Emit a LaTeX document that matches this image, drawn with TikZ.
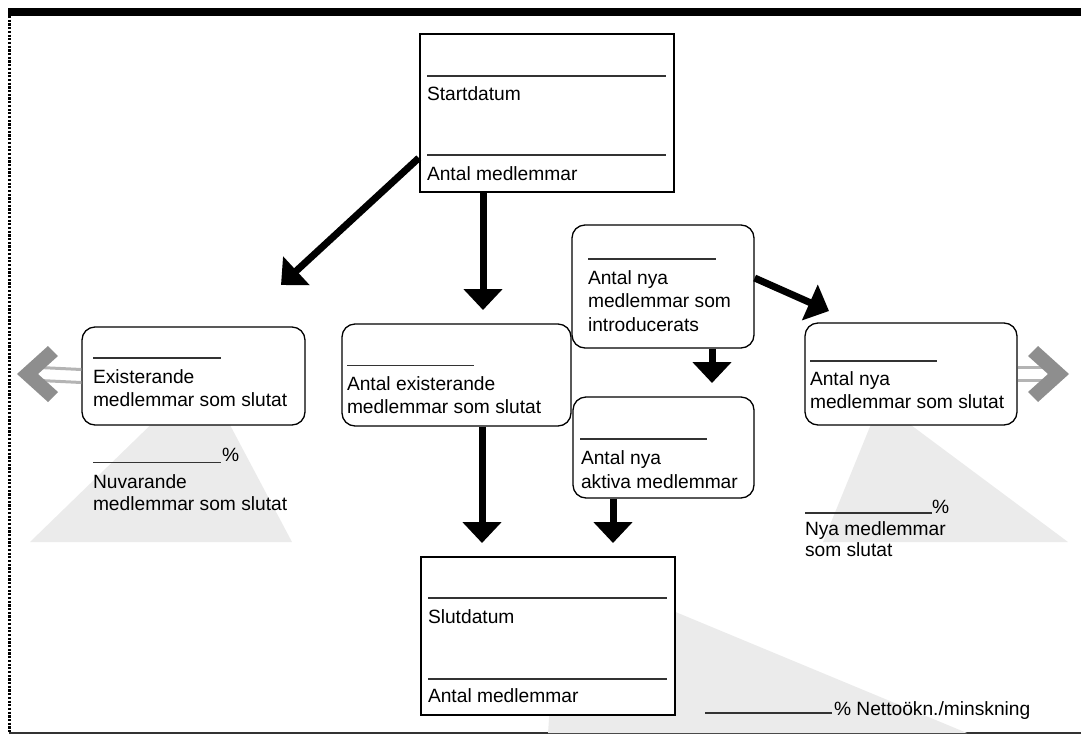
\documentclass[tikz,border=0pt]{standalone}
\usepackage{fontspec}
\setmainfont{Liberation Sans}
\usetikzlibrary{arrows.meta}
\definecolor{tri}{HTML}{EBEBEB}
\definecolor{chev}{HTML}{8E8E8E}
\definecolor{dline}{HTML}{B4B4B4}
\definecolor{ul}{HTML}{333333}
\tikzset{
  txt/.style={anchor=base west, inner sep=0pt, outer sep=0pt, font=\fontsize{19.2}{23}\selectfont},
  sqbox/.style={draw=black, line width=2.5pt, fill=white, inner sep=0pt},
  rbox/.style={draw=black, line width=1.3pt, rounded corners=13pt, fill=white, inner sep=0pt},
  bigarrow/.style={line width=7pt, draw=black, -{Triangle[width=38pt,length=21pt]}},
  blank/.style={draw=ul, line width=1.2pt},
  grayline/.style={draw=dline, line width=3pt},
  tripatch/.style={fill=tri, draw=none},
  chevron/.style={fill=chev, draw=none}
}
\begin{document}
\begin{tikzpicture}[x=1pt,y=-1pt]
\useasboundingbox (0,0) rectangle (1081,734);
% frame
\fill[black] (8,7.5) rectangle (1081,15.5);
\draw[black, line width=2.3pt, dash pattern=on 2.2pt off 1.5pt] (9.5,16) -- (9.5,733);
\draw[black!80, line width=1.5pt] (9,733.2) -- (1081,733.2);
% gray triangles
\path[tripatch] (203,374) -- (30,542) -- (292,542) -- cycle;
\path[tripatch] (880,402) -- (823,542) -- (1068,542) -- cycle;
\path[tripatch] (560,564) -- (548,733) -- (967,733) -- cycle;
% boxes
\node[sqbox, minimum width=254pt, minimum height=158pt] (start) at (547,113) {};
\node[sqbox, minimum width=254pt, minimum height=158pt] (slut) at (548,636) {};
\node[rbox, minimum width=223pt, minimum height=98pt] (exist) at (193.5,376) {};
\node[rbox, minimum width=229pt, minimum height=102pt] (antex) at (456.5,375) {};
\node[rbox, minimum width=182pt, minimum height=123pt] (intro) at (663,286.5) {};
\node[rbox, minimum width=181pt, minimum height=101pt] (aktiva) at (663.5,447.5) {};
\node[rbox, minimum width=212pt, minimum height=102pt] (nyslut) at (911,374) {};
% arrow tips
\coordinate (t1) at (281,285);
\coordinate (t2) at (483,310);
\coordinate (t3) at (482,543);
\coordinate (t4) at (613,543);
\coordinate (t5) at (712,383);
\coordinate (t6) at (829,311);
\draw[bigarrow] ([yshift=-45pt]start.west) -- (t1);
\draw[bigarrow] ([xshift=-64pt]start.south) -- (t2);
\draw[bigarrow] ([xshift=25.5pt]antex.south) -- (t3);
\draw[bigarrow] ([xshift=-50.5pt]aktiva.south) -- (t4);
\draw[bigarrow] ([xshift=49pt]intro.south) -- (t5);
\draw[bigarrow] ([yshift=8.5pt]intro.east) -- (t6);
% gray exit arrows
\coordinate (gl) at (40,374);
\coordinate (gr) at (1046,374);
\draw[grayline] ([yshift=6.5pt]exist.west) -- ([yshift=6.5pt]gl);
\draw[grayline] ([yshift=-6.5pt]exist.west) -- ([yshift=-6.5pt]gl);
\fill[chevron] (17,374) -- (48,346) -- (58,356) -- (38,374) -- (58,392) -- (48,402) -- cycle;
\draw[grayline] ([yshift=6.5pt]nyslut.east) -- ([yshift=6.5pt]gr);
\draw[grayline] ([yshift=-6.5pt]nyslut.east) -- ([yshift=-6.5pt]gr);
\fill[chevron] (1069,374) -- (1038,346) -- (1028,356) -- (1048,374) -- (1028,392) -- (1038,402) -- cycle;
% blanks
\draw[blank] (427,76) -- (666,76);
\draw[blank] (427,155) -- (666,155);
\draw[blank] (428,598) -- (667,598);
\draw[blank] (428,679) -- (667,679);
\draw[blank] (93,358) -- (221,358);
\draw[blank] (347,365.7) -- (474,365.7);
\draw[blank] (588,259) -- (716,259);
\draw[blank] (580,439) -- (707,439);
\draw[blank] (810,361) -- (937,361);
\draw[blank] (93,462.5) -- (221,462.5);
\draw[blank] (805,513) -- (932,513);
\draw[blank] (705,713) -- (832,713);
% texts
\node[txt] (s1) at (427,100) {Startdatum};
\node[txt] (s2) at (427,180) {Antal medlemmar};
\node[txt] (e1) at (428,623.3) {Slutdatum};
\node[txt] (e2) at (428,702.7) {Antal medlemmar};
\node[txt] (x1) at (93,383.3) {Existerande};
\node[txt] (x2) at (93,406.7) {medlemmar som slutat};
\node[txt] (a1) at (347,390) {Antal existerande};
\node[txt] (a2) at (347,413.3) {medlemmar som slutat};
\node[txt] (i1) at (588,284) {Antal nya};
\node[txt] (i2) at (588,307.5) {medlemmar som};
\node[txt] (i3) at (588,331) {introducerats};
\node[txt] (k1) at (581,464.3) {Antal nya};
\node[txt] (k2) at (581,488) {aktiva medlemmar};
\node[txt] (n1) at (810,385) {Antal nya};
\node[txt] (n2) at (810,408.3) {medlemmar som slutat};
\node[txt] (p1) at (222,461.7) {\%};
\node[txt] (p2) at (93,488.3) {Nuvarande};
\node[txt] (p3) at (93,510) {medlemmar som slutat};
\node[txt] (q1) at (932,513) {\%};
\node[txt] (q2) at (805,535) {Nya medlemmar};
\node[txt] (q3) at (805,556.7) {som slutat};
\node[txt] (r1) at (834,715) {\% Nettoökn./minskning};
\end{tikzpicture}
\end{document}
